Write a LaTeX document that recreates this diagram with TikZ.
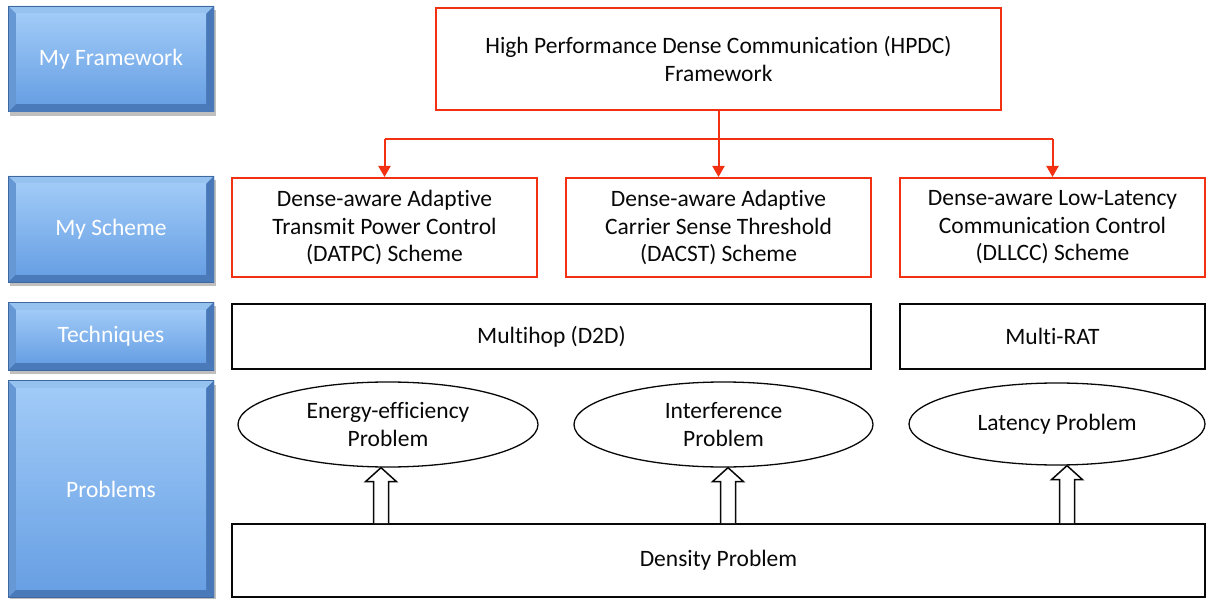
\documentclass[tikz,border=0pt]{standalone}
\usepackage{fontspec}
\setmainfont[Ligatures=NoCommon]{Carlito}
\usetikzlibrary{arrows.meta,calc,shadows,shapes.geometric}

\definecolor{hpred}{RGB}{242,48,18}
\definecolor{inkc}{RGB}{8,8,8}
\definecolor{faceTop}{RGB}{160,202,247}
\definecolor{faceBot}{RGB}{104,160,228}
\definecolor{bevTop}{RGB}{150,194,240}
\definecolor{bevBot}{RGB}{74,122,186}
\definecolor{bevLeft}{RGB}{102,152,214}
\definecolor{bevRight}{RGB}{72,120,184}

\tikzset{
  txt/.style={font=\fontsize{23.5}{27.5}\selectfont, text=inkc, align=center},
  bluebox/.style={rectangle, minimum width=206pt, inner sep=0pt,
    font=\fontsize{23.5}{27.5}\selectfont, text=white,
    fill=bevLeft,
    drop shadow={shadow xshift=2pt, shadow yshift=-4pt, opacity=0.25, fill=black},
    path picture={
      \coordinate (bNW) at (path picture bounding box.north west);
      \coordinate (bNE) at (path picture bounding box.north east);
      \coordinate (bSW) at (path picture bounding box.south west);
      \coordinate (bSE) at (path picture bounding box.south east);
      \coordinate (iNW) at ($(bNW)+(8,8)$);
      \coordinate (iNE) at ($(bNE)+(-8,8)$);
      \coordinate (iSW) at ($(bSW)+(8,-8)$);
      \coordinate (iSE) at ($(bSE)+(-8,-8)$);
      \fill[bevTop] (bNW) -- (bNE) -- (iNE) -- (iNW) -- cycle;
      \fill[bevBot] (bSW) -- (bSE) -- (iSE) -- (iSW) -- cycle;
      \fill[bevLeft] (bNW) -- (iNW) -- (iSW) -- (bSW) -- cycle;
      \fill[bevRight] (bNE) -- (iNE) -- (iSE) -- (bSE) -- cycle;
      \shade[top color=faceTop, bottom color=faceBot] (iNW) rectangle (iSE);
      \draw[bevBot!85!black, line width=0.8pt] (bNW) rectangle (bSE);
    }},
  redbox/.style={txt, rectangle, draw=hpred, line width=2pt, inner sep=0pt},
  blackbox/.style={txt, rectangle, draw=inkc, line width=1.6pt, inner sep=0pt},
  probell/.style={txt, ellipse, draw=inkc, line width=1.3pt, inner sep=0pt},
  redline/.style={draw=hpred, line width=2pt},
  redarrow/.style={redline, -{Triangle[width=12pt,length=11pt]}},
  hollow/.style={draw=inkc, line width=1.5pt, fill=white, line join=miter},
}

% upward block arrow from the top of #2 to the bottom of #3, at the x of coordinate #1
\newcommand\blockup[3]{%
  \coordinate (#1b) at (#1 |- #2.north);
  \coordinate (#1t) at (#1 |- #3.south);
  \filldraw[hollow] ($(#1b)+(-7.5,0)$) -- ($(#1t)+(-7.5,14)$) -- ($(#1t)+(-15.5,14)$)
    -- (#1t) -- ($(#1t)+(15.5,14)$) -- ($(#1t)+(7.5,14)$) -- ($(#1b)+(7.5,0)$);
}

\begin{document}
\begin{tikzpicture}[x=1pt,y=-1pt]
\useasboundingbox[fill=white] (0,0) rectangle (1208,599);

% row labels
\node[bluebox, minimum height=106pt] (lf) at (111,59) {My Framework};
\node[bluebox, minimum height=106pt] (ls) at (111,229) {My Scheme};
\node[bluebox, minimum height=68pt] (lt) at (111,336) {Techniques};
\node[bluebox, minimum height=217pt] (lp) at (111,489) {Problems};

% framework
\node[redbox, minimum width=565pt, minimum height=102pt] (hpdc) at (718.5,59)
  {High Performance Dense Communication (HPDC)\\Framework};

% schemes
\node[redbox, minimum width=305pt, minimum height=99pt] (s1) at (384.5,227.5)
  {Dense-aware Adaptive\\Transmit Power Control\\(DATPC) Scheme};
\node[redbox, minimum width=305pt, minimum height=99pt] (s2) at (718.5,227.5)
  {Dense-aware Adaptive\\Carrier Sense Threshold\\(DACST) Scheme};
\node[redbox, minimum width=305pt, minimum height=99pt] (s3) at (1052.5,227.5)
  {Dense-aware Low-Latency\\Communication Control\\(DLLCC) Scheme};

% techniques
\node[blackbox, minimum width=639pt, minimum height=65pt] (mh) at (551.5,336.5) {Multihop (D2D)};
\node[blackbox, minimum width=305pt, minimum height=65pt] (rat) at (1052.5,336.5) {Multi-RAT};

% problems
\node[probell, minimum width=300pt, minimum height=85pt] (e1) at (388,424.5) {Energy-efficiency\\Problem};
\node[probell, minimum width=299pt, minimum height=85pt] (e2) at (723.5,424.5) {Interference\\Problem};
\node[probell, minimum width=296pt, minimum height=82pt] (e3) at (1057,424) {Latency Problem};
\node[blackbox, minimum width=973pt, minimum height=73pt] (dens) at (718.5,560.5) {Density Problem};

% framework to schemes
\coordinate (bus) at (718.5,139);
\draw[redline] (hpdc.south) -- (hpdc.south |- bus);
\draw[redline] (s1.north |- bus) -- (s3.north |- bus);
\draw[redarrow] (s1.north |- bus) -- (s1.north);
\draw[redarrow] (s2.north |- bus) -- (s2.north);
\draw[redarrow] (s3.north |- bus) -- (s3.north);

% density leads to the specific problems
\coordinate (ax1) at (381,0);
\coordinate (ax2) at (728,0);
\coordinate (ax3) at (1067,0);
\blockup{ax1}{dens}{e1}
\blockup{ax2}{dens}{e2}
\blockup{ax3}{dens}{e3}
\end{tikzpicture}
\end{document}
